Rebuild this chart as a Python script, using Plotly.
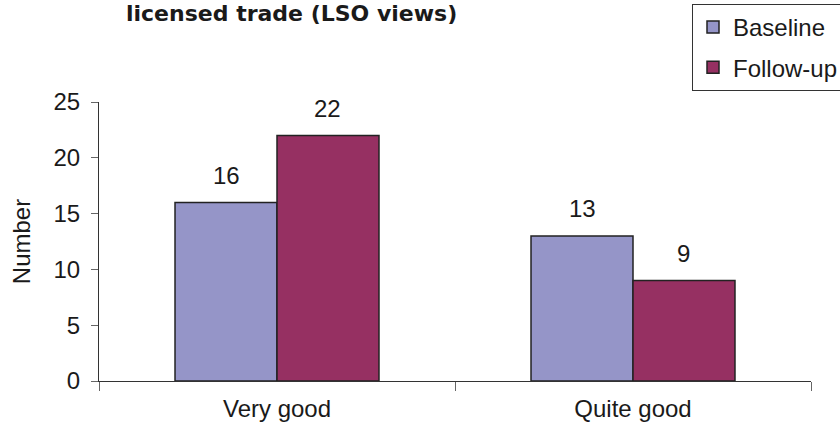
import plotly.graph_objects as go

categories = ["Very good", "Quite good"]
baseline = [16, 13]
followup = [22, 9]
series_names = ["Baseline", "Follow-up"]
title_text = "licensed trade (LSO views)"
y_title = "Number"
y_ticks = [0, 5, 10, 15, 20, 25]

FONT = "Liberation Sans, Arial, sans-serif"
TXT = "#1a1a1a"
FS = 24

W, H = 840, 435
ML, MR, MT, MB = 99, 29, 102, 54
BARGAP = 0.427
plot_w = W - ML - MR
plot_h = H - MT - MB
bar_w = plot_w / len(categories) * (1 - BARGAP) / 2

fig = go.Figure()
series = [(series_names[0], baseline, "#9595C8", "a", -1),
          (series_names[1], followup, "#963062", "b", 1)]
annotations = []
for name, vals, col, grp, side in series:
    fig.add_trace(go.Bar(
        x=categories, y=vals, name=name, legendgroup=grp,
        marker=dict(color=col, line=dict(color="#222222", width=1.5)),
        hoverinfo="skip",
    ))
    for c, v in zip(categories, vals):
        annotations.append(dict(
            x=c, y=v, xref="x", yref="y", text=str(v), showarrow=False,
            xanchor="center", yanchor="middle", xshift=side * bar_w / 2, yshift=27,
            font=dict(size=FS, family=FONT, color=TXT),
        ))

annotations.append(dict(
    text="<b>" + title_text + "</b>", xref="paper", yref="paper",
    x=(291 - ML) / plot_w, y=(H - MB - 13) / plot_h,
    xanchor="center", yanchor="middle", showarrow=False,
    font=dict(size=22, family="DejaVu Sans, sans-serif", color=TXT),
))

fig.update_layout(
    width=W, height=H,
    margin=dict(l=ML, r=MR, t=MT, b=MB, autoexpand=False),
    paper_bgcolor="white", plot_bgcolor="white",
    barmode="group", bargap=BARGAP, bargroupgap=0,
    font=dict(family=FONT, size=FS, color=TXT),
    showlegend=True,
    legend=dict(
        x=(692 - ML) / plot_w, y=(H - MB - 4) / plot_h,
        xanchor="left", yanchor="top",
        bordercolor="#333333", borderwidth=1, bgcolor="white",
        font=dict(size=FS, family=FONT, color=TXT),
        traceorder="grouped", tracegroupgap=6, itemwidth=30,
    ),
    annotations=annotations,
)
fig.update_xaxes(
    showline=True, linecolor="#333333", linewidth=1,
    ticks="outside", tickson="boundaries", ticklen=9, tickcolor="#666666",
    showgrid=False, tickfont=dict(size=FS), ticklabelstandoff=6,
)
fig.update_yaxes(
    range=[0, 25], tickvals=y_ticks, showline=True, linecolor="#333333", linewidth=1,
    ticks="outside", ticklen=7, tickcolor="#666666", showgrid=False, zeroline=False,
    ticklabelstandoff=6,
    title=dict(text=y_title, font=dict(size=FS), standoff=16), tickfont=dict(size=FS),
)

fig.write_html("out.html", config={"displayModeBar": False},
               post_script="document.body.style.margin='0';")
